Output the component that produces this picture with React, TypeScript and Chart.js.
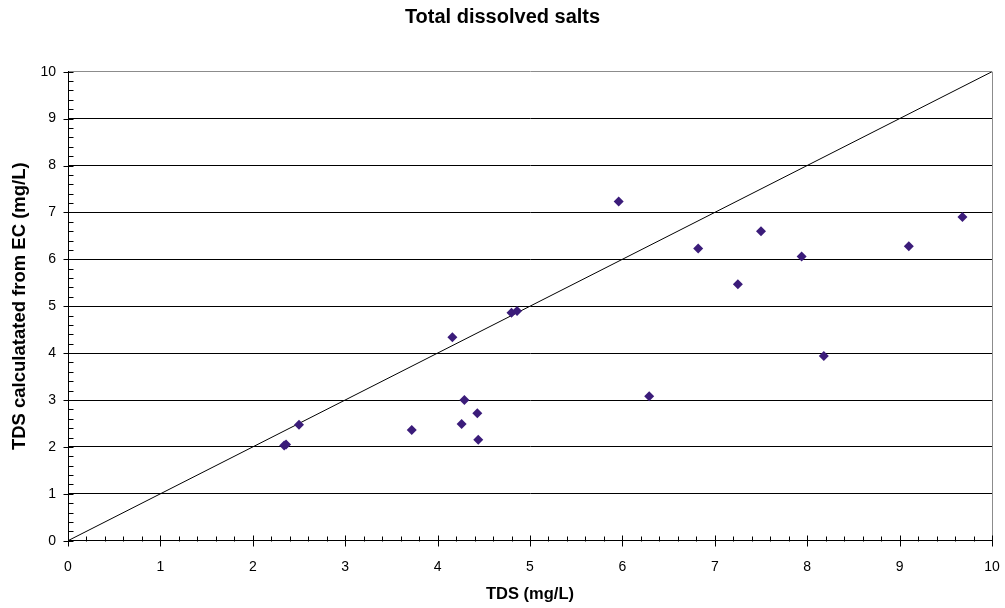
import React, { useEffect, useRef } from "react";
import { Chart, registerables } from "chart.js";

Chart.register(...registerables);

const tdsMeasured = [2.34, 2.36, 2.50, 3.72, 4.16, 4.29, 4.26, 4.43, 4.44, 4.80, 4.86, 5.96, 6.29, 6.82, 7.25, 7.50, 7.94, 8.18, 9.10, 9.68];
const tdsFromEC = [2.03, 2.05, 2.47, 2.36, 4.34, 3.00, 2.49, 2.72, 2.15, 4.86, 4.90, 7.23, 3.08, 6.23, 5.47, 6.60, 6.06, 3.94, 6.28, 6.90];
const lineX = [0, 10];
const lineY = [0, 10];
const tickValues = [0, 1, 2, 3, 4, 5, 6, 7, 8, 9, 10];

const chartTitle = "Total dissolved salts";
const xTitle = "TDS (mg/L)";
const yTitle = "TDS calculatated from EC (mg/L)";

const FONT = "'Liberation Sans', Arial, sans-serif";

const axisDecor = {
  id: "axisDecor",
  afterDraw(chart: any) {
    const { ctx, chartArea, scales } = chart;
    const xs = scales.x;
    const ys = scales.y;
    ctx.save();
    ctx.strokeStyle = "#8c8c8c";
    ctx.lineWidth = 1;
    ctx.beginPath();
    ctx.moveTo(Math.round(chartArea.right) + 0.5, chartArea.top);
    ctx.lineTo(Math.round(chartArea.right) + 0.5, chartArea.bottom);
    ctx.stroke();
    ctx.strokeStyle = "#000";
    ctx.beginPath();
    const bottom = Math.round(chartArea.bottom) + 0.5;
    const left = Math.round(chartArea.left) + 0.5;
    for (let i = 0; i <= 50; i++) {
      const v = i / 5;
      const px = Math.round(xs.getPixelForValue(v)) + 0.5;
      const py = Math.round(ys.getPixelForValue(v)) + 0.5;
      if (i % 5 === 0) {
        ctx.moveTo(px, bottom - 6);
        ctx.lineTo(px, bottom + 5);
        ctx.moveTo(left - 5, py);
        ctx.lineTo(left + 5, py);
      } else {
        ctx.moveTo(px, bottom - 5);
        ctx.lineTo(px, bottom);
        ctx.moveTo(left, py);
        ctx.lineTo(left + 5, py);
      }
    }
    ctx.stroke();
    ctx.restore();
  },
};

export default function App() {
  const ref = useRef<HTMLCanvasElement | null>(null);
  useEffect(() => {
    document.body.style.margin = "0";
    const canvas = ref.current;
    if (!canvas) return;
    const points = tdsMeasured.map((x, i) => ({ x, y: tdsFromEC[i] }));
    const linePts = lineX.map((x, i) => ({ x, y: lineY[i] }));
    const chart = new Chart(canvas, {
      type: "scatter",
      data: {
        datasets: [
          {
            type: "scatter",
            label: "TDS",
            data: points,
            pointStyle: "rectRot",
            pointRadius: 5,
            pointBackgroundColor: "#3b1c7a",
            pointBorderColor: "#3b1c7a",
            pointBorderWidth: 0,
            order: 0,
          },
          {
            type: "line",
            label: "1:1",
            data: linePts,
            borderColor: "#000",
            borderWidth: 1,
            pointRadius: 0,
            showLine: true,
            fill: false,
            order: 1,
          } as any,
        ],
      },
      options: {
        responsive: false,
        animation: false,
        devicePixelRatio: 1,
        layout: { padding: { left: 0, right: 0, top: 0, bottom: 0 } },
        plugins: {
          legend: { display: false },
          tooltip: { enabled: false },
          title: {
            display: true,
            text: chartTitle,
            color: "#000",
            font: { family: FONT, size: 20, weight: "bold" },
            padding: { top: 5.5, bottom: 42.2 },
          },
        },
        scales: {
          x: {
            type: "linear",
            min: 0,
            max: 10,
            afterBuildTicks: (scale: any) => {
              scale.ticks = tickValues.map((v) => ({ value: v }));
            },
            afterFit: (scale: any) => {
              scale.height = 67.3;
              scale.paddingLeft = 0;
              scale.paddingRight = 13;
            },
            ticks: {
              color: "#000",
              padding: 18,
              font: { family: FONT, size: 14 },
              maxRotation: 0,
            },
            grid: { display: false, drawTicks: false },
            border: { display: true, color: "#000", width: 1 },
            title: {
              display: true,
              text: xTitle,
              color: "#000",
              font: { family: FONT, size: 16.5, weight: "bold" },
              padding: { top: 0, bottom: 4 },
            },
          },
          y: {
            type: "linear",
            min: 0,
            max: 10,
            afterBuildTicks: (scale: any) => {
              scale.ticks = tickValues.map((v) => ({ value: v }));
            },
            afterFit: (scale: any) => {
              scale.width = 68;
            },
            ticks: {
              color: "#000",
              padding: 12,
              font: { family: FONT, size: 14 },
            },
            grid: {
              drawTicks: false,
              color: (c: any) => (c.tick && c.tick.value === 10 ? "#8c8c8c" : c.tick && c.tick.value === 0 ? "rgba(0,0,0,0)" : "#000"),
              lineWidth: 1,
            },
            border: { display: true, color: "#000", width: 1 },
            title: {
              display: true,
              text: yTitle,
              color: "#000",
              font: { family: FONT, size: 18.5, weight: "bold" },
              padding: { top: 9, bottom: 0 },
            },
          },
        },
      },
      plugins: [axisDecor],
    });
    return () => chart.destroy();
  }, []);
  return (
    <div style={{ width: 1005, height: 608 }}>
      <canvas ref={ref} width={1005} height={608} style={{ display: "block" }} />
    </div>
  );
}
